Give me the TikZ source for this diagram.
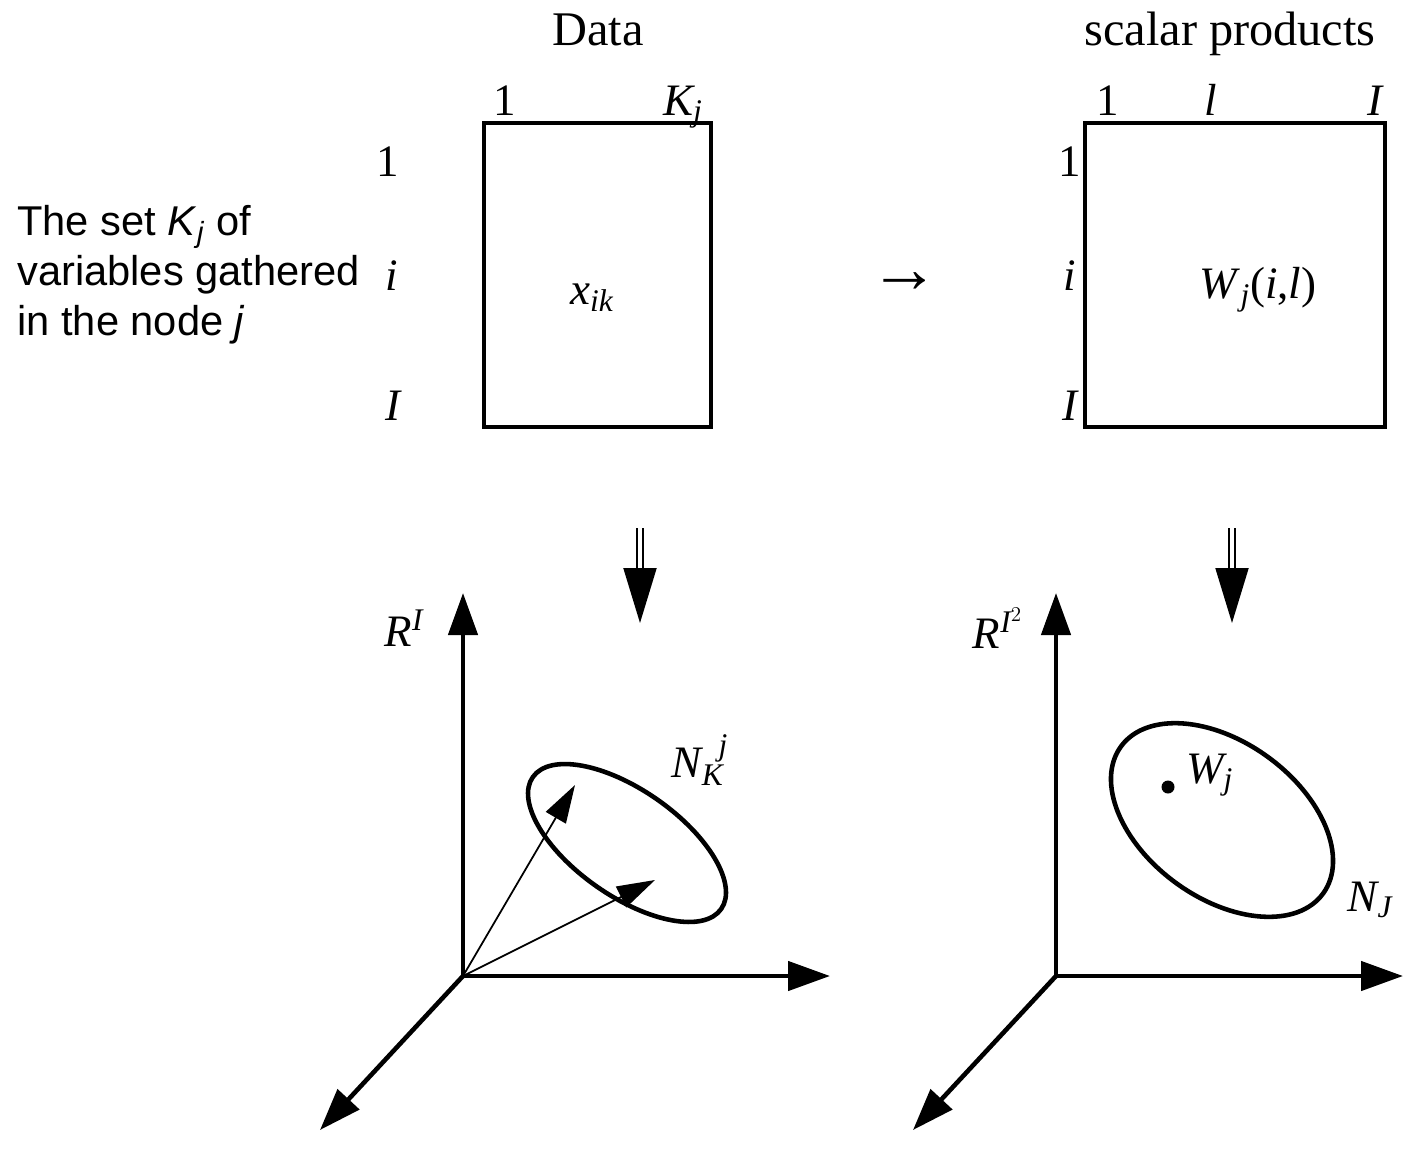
\documentclass[tikz,border=0pt]{standalone}
\usepackage{fontspec}
\setmainfont{Liberation Serif}
\setsansfont{Liberation Sans}
\usetikzlibrary{arrows.meta, positioning, calc}
\newcommand{\mv}[1]{\mathit{#1}}

\begin{document}
\begin{tikzpicture}[x=0.02cm, y=-0.02cm,
  font=\fontsize{25.6}{30}\selectfont,
  mat/.style={draw, line width=2pt, minimum height=6.08cm, inner sep=0pt},
  lbl/.style={anchor=base, inner sep=0pt},
  axis/.style={line width=2.6pt, -{Triangle[length=0.84cm, width=0.58cm]}},
  vec/.style={line width=1pt, -{Triangle[length=0.76cm, width=0.46cm]}},
  down/.style={double, double distance=2.3pt, line width=1.1pt, -{Triangle[length=1.1cm, width=0.66cm]}},
  ell/.style={line width=2.6pt}]
  \useasboundingbox (0,0) rectangle (1403,1150);

  % titles
  \node[lbl, font=\fontsize{27.5}{32}\selectfont] (tdata) at (598,45) {Data};
  \node[lbl, font=\fontsize{27.5}{32}\selectfont] (tscal) at (1230,45) {scalar products};

  % data matrix
  \node[mat, minimum width=4.54cm] (data) at (597.5,275) {};
  \node (xik) at (592,298) {$\mv{x}_{\mv{ik}}$};
  \node[lbl] (dc1) at (505,115) {1};
  \node[lbl] (dcK) at (683,115) {$\mv{K}_{\mv{j}}$};
  \node[lbl] (dr1) at (388,176) {1};
  \node[lbl] (dri) at (392,290) {$\mv{i}$};
  \node[lbl] (drI) at (393,420) {$\mv{I}$};

  \node[font=\sffamily\fontsize{23.7}{28.5}\selectfont, align=left, anchor=north west, inner sep=0pt] (setK) at (17,205)
    {The set \textit{K}\textsubscript{\textit{j}} of\\variables gathered\\in the node \textit{j}};

  \node[font=\bfseries\fontsize{40}{40}\selectfont] (to) at (905,283) {→};

  % scalar products matrix
  \node[mat, minimum width=6cm] (scal) at (1235,275) {};
  \node (wil) at (1258,290) {\textit{W}\textsubscript{\textit{j}}(\textit{i},\textit{l})};
  \node[lbl] (sc1) at (1108,115) {1};
  \node[lbl] (scl) at (1211,115) {$\mv{l}$};
  \node[lbl] (scI) at (1375,115) {$\mv{I}$};
  \node[lbl] (sr1) at (1070,176) {1};
  \node[lbl] (sri) at (1070,290) {$\mv{i}$};
  \node[lbl] (srI) at (1070,420) {$\mv{I}$};

  % double arrows
  \coordinate (d1s) at (640,528);
  \coordinate (d1e) at (640,623);
  \coordinate (d2s) at (1232,528);
  \coordinate (d2e) at (1232,623);
  \draw[down] (d1s) -- (d1e);
  \draw[down] (d2s) -- (d2e);

  % left space
  \coordinate (o1) at (463,976);
  \coordinate (y1) at (463,593);
  \coordinate (x1) at (830,976);
  \coordinate (z1) at (320,1130);
  \draw[axis] (o1) -- (y1);
  \draw[axis] (o1) -- (x1);
  \draw[axis] (o1) -- (z1);
  \node (RI) at (404,628) {$\mv{R}^{\mv{I}}$};
  \draw[ell, rotate around={-35:(627,843)}] (627,843) ellipse [x radius=2.3cm, y radius=1.06cm];
  \coordinate (v1) at (575,785);
  \coordinate (v2) at (655,880);
  \draw[vec] (o1) -- (v1);
  \draw[vec] (o1) -- (v2);
  \node (NK) at (700,760) {$\mv{N}_{\mv{K}}^{\mkern10mu\mv{j}}$};

  % right space
  \coordinate (o2) at (1056,976);
  \coordinate (y2) at (1056,593);
  \coordinate (x2) at (1403,976);
  \coordinate (z2) at (913,1130);
  \draw[axis] (o2) -- (y2);
  \draw[axis] (o2) -- (x2);
  \draw[axis] (o2) -- (z2);
  \node (RI2) at (998,628) {$\mv{R}^{\mv{I}^{2}}$};
  \draw[ell, rotate around={-36:(1222,820)}] (1222,820) ellipse [x radius=2.5cm, y radius=1.56cm];
  \fill (1168,787) circle [radius=6.5];
  \node[anchor=west] (W) at (1180,775) {$\mv{W}_{\mv{j}}$};
  \node (NJ) at (1370,900) {$\mv{N}_{\mv{J}}$};
\end{tikzpicture}
\end{document}
